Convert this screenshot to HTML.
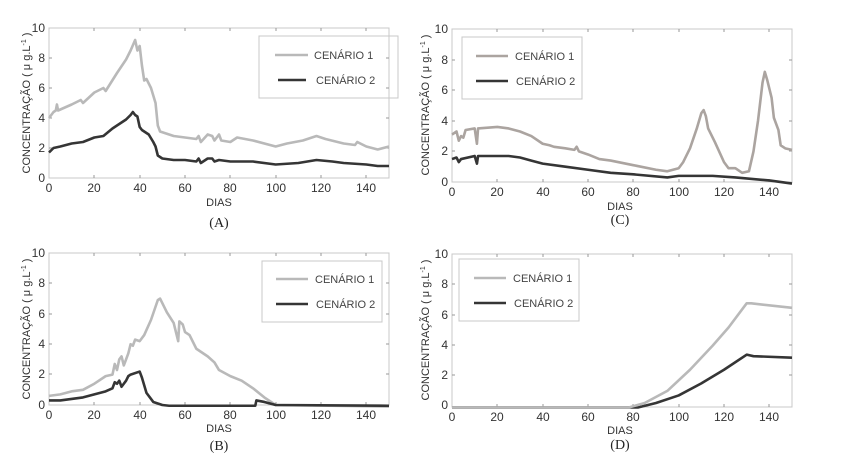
<!DOCTYPE html>
<html><head><meta charset="utf-8"><style>
html,body{margin:0;padding:0;background:#fff;}
svg{display:block;}
.t{font-family:"Liberation Sans",sans-serif;font-size:12px;fill:#333;}
.lg{font-family:"Liberation Sans",sans-serif;font-size:11px;fill:#444;}
.cap{font-family:"Liberation Serif",serif;font-size:14px;fill:#222;}
.frame{fill:none;stroke:#c8c8c8;stroke-width:1;}
.c1{fill:none;stroke:#b9b9b9;stroke-width:2.6;stroke-linejoin:round;}
.c1c{fill:none;stroke:#aba4a0;stroke-width:2.6;stroke-linejoin:round;}
.c2{fill:none;stroke:#353535;stroke-width:2.6;stroke-linejoin:round;}
.tk{stroke:#999;stroke-width:1;}
</style></head><body>
<svg width="849" height="469" viewBox="0 0 849 469" xmlns="http://www.w3.org/2000/svg">
<rect width="849" height="469" fill="#fff"/>

<!-- Panel A -->
<rect class="frame" x="49" y="28" width="340" height="150"/>
<path class="tk" d="M94,178v-3M140,178v-3M185,178v-3M230,178v-3M276,178v-3M321,178v-3M366,178v-3M94,28v3M140,28v3M185,28v3M230,28v3M276,28v3M321,28v3M366,28v3M49,58h3M49,88h3M49,118h3M49,148h3M389,58h-3M389,88h-3M389,118h-3M389,148h-3"/>
<g class="t" text-anchor="end">
<text x="45" y="32">10</text><text x="45" y="62">8</text><text x="45" y="92">6</text><text x="45" y="122">4</text><text x="45" y="152">2</text><text x="45" y="182">0</text></g>
<g class="t" text-anchor="middle">
<text x="49" y="192">0</text><text x="94" y="192">20</text><text x="140" y="192">40</text><text x="185" y="192">60</text><text x="230" y="192">80</text><text x="276" y="192">100</text><text x="321" y="192">120</text><text x="366" y="192">140</text>
<text x="219" y="206" style="font-size:11px">DIAS</text></g>
<text class="t" style="font-size:11px" transform="translate(30,103) rotate(-90)" text-anchor="middle">CONCENTRAÇÃO ( μ g.L<tspan dy="-4" font-size="7">-1</tspan><tspan dy="4"> )</tspan></text>
<text class="cap" x="219" y="227" text-anchor="middle">(A)</text>
<rect class="frame" x="259" y="36" width="139" height="62"/>
<line x1="275" y1="55" x2="308" y2="55" stroke="#b9b9b9" stroke-width="2.6"/><text class="lg" x="314" y="59">CENÁRIO 1</text>
<line x1="278" y1="80" x2="306" y2="80" stroke="#353535" stroke-width="2.6"/><text class="lg" x="316" y="84">CENÁRIO 2</text>
<g transform="translate(49,178) scale(2.2667,-15)">
<polyline class="c1" vector-effect="non-scaling-stroke" points="0,4 2,4.4 3,4.5 3.5,4.9 4,4.5 10,4.9 14,5.2 15,5 20,5.7 24,6 25,5.8 30,7 34,7.9 36,8.5 38,9.2 39,8.5 40,8.8 41,7.5 42,6.5 43,6.6 45,6 47,5 48,3.5 49,3.1 55,2.8 60,2.7 65,2.6 66,2.8 67,2.4 70,2.9 72,2.8 73,2.5 75,2.9 76,2.5 80,2.4 83,2.7 90,2.5 100,2.1 105,2.3 112,2.5 118,2.8 122,2.6 130,2.3 135,2.2 136,2.4 140,2.1 145,1.9 150,2.1"/>
<polyline class="c2" vector-effect="non-scaling-stroke" points="0,1.7 2,2 5,2.1 10,2.3 15,2.4 20,2.7 24,2.8 28,3.3 34,3.9 36,4.2 37,4.4 38,4.2 39,4.1 40,3.4 41,3.2 42,3.1 44,2.9 46,2.4 47,2.1 48,1.5 50,1.3 55,1.2 60,1.2 65,1.1 66,1.3 67,1 70,1.3 72,1.3 73,1.1 75,1.2 80,1.1 90,1.1 100,0.9 110,1 118,1.2 125,1.1 130,1 140,0.9 145,0.8 150,0.8"/>
</g>

<!-- Panel C -->
<rect class="frame" x="452" y="29" width="340" height="153"/>
<path class="tk" d="M497,182v-3M543,182v-3M588,182v-3M633,182v-3M679,182v-3M724,182v-3M769,182v-3M497,29v3M543,29v3M588,29v3M633,29v3M679,29v3M724,29v3M769,29v3M452,60h3M452,90h3M452,121h3M452,151h3M792,60h-3M792,90h-3M792,121h-3M792,151h-3"/>
<g class="t" text-anchor="end">
<text x="448" y="33">10</text><text x="448" y="64">8</text><text x="448" y="94">6</text><text x="448" y="125">4</text><text x="448" y="155">2</text><text x="448" y="186">0</text></g>
<g class="t" text-anchor="middle">
<text x="452" y="196">0</text><text x="497" y="196">20</text><text x="543" y="196">40</text><text x="588" y="196">60</text><text x="633" y="196">80</text><text x="679" y="196">100</text><text x="724" y="196">120</text><text x="769" y="196">140</text>
<text x="620" y="210" style="font-size:11px">DIAS</text></g>
<text class="t" style="font-size:11px" transform="translate(429,105) rotate(-90)" text-anchor="middle">CONCENTRAÇÃO ( μ g.L<tspan dy="-4" font-size="7">-1</tspan><tspan dy="4"> )</tspan></text>
<text class="cap" x="620" y="224" text-anchor="middle">(C)</text>
<rect class="frame" x="462" y="37" width="120" height="62"/>
<line x1="476" y1="56" x2="508" y2="56" stroke="#aba4a0" stroke-width="2.6"/><text class="lg" x="515" y="60">CENÁRIO 1</text>
<line x1="476" y1="81" x2="508" y2="81" stroke="#353535" stroke-width="2.6"/><text class="lg" x="516" y="85">CENÁRIO 2</text>
<g transform="translate(452,182) scale(2.2667,-15.3)">
<polyline class="c1c" vector-effect="non-scaling-stroke" points="0,3.1 2,3.3 3,2.7 4,3 5,2.9 6,3.4 10,3.5 11,2.5 11.5,3.5 20,3.6 25,3.5 30,3.3 35,3 40,2.5 43,2.4 45,2.3 50,2.2 54,2.1 55,2.3 56,2 60,1.8 65,1.5 70,1.4 80,1.1 90,0.8 95,0.7 100,0.9 102,1.3 105,2.2 108,3.5 110,4.5 111,4.7 112,4.3 113,3.5 116,2.6 120,1.3 122,0.9 125,0.9 128,0.6 131,0.7 133,2 135,4 137,6.5 138,7.2 139,6.7 141,5.5 142,4.2 144,3.4 145,2.4 147,2.2 150,2.1"/>
<polyline class="c2" vector-effect="non-scaling-stroke" points="0,1.5 2,1.6 3,1.3 4,1.5 10,1.7 11,1.2 11.5,1.7 25,1.7 30,1.6 35,1.4 40,1.2 50,1 60,0.8 70,0.6 80,0.5 95,0.3 100,0.4 115,0.4 125,0.3 140,0.1 150,-0.1"/>
</g>

<!-- Panel B -->
<rect class="frame" x="49" y="253" width="340" height="152"/>
<path class="tk" d="M94,405v-3M140,405v-3M185,405v-3M230,405v-3M276,405v-3M321,405v-3M366,405v-3M94,253v3M140,253v3M185,253v3M230,253v3M276,253v3M321,253v3M366,253v3M49,283h3M49,314h3M49,344h3M49,374h3M389,283h-3M389,314h-3M389,344h-3M389,374h-3"/>
<g class="t" text-anchor="end">
<text x="45" y="257">10</text><text x="45" y="287">8</text><text x="45" y="318">6</text><text x="45" y="348">4</text><text x="45" y="378">2</text><text x="45" y="409">0</text></g>
<g class="t" text-anchor="middle">
<text x="49" y="419">0</text><text x="94" y="419">20</text><text x="140" y="419">40</text><text x="185" y="419">60</text><text x="230" y="419">80</text><text x="276" y="419">100</text><text x="321" y="419">120</text><text x="366" y="419">140</text>
<text x="219" y="432" style="font-size:11px">DIAS</text></g>
<text class="t" style="font-size:11px" transform="translate(30,329) rotate(-90)" text-anchor="middle">CONCENTRAÇÃO ( μ g.L<tspan dy="-4" font-size="7">-1</tspan><tspan dy="4"> )</tspan></text>
<text class="cap" x="219" y="450" text-anchor="middle">(B)</text>
<rect class="frame" x="262" y="261" width="120" height="61"/>
<line x1="276" y1="279" x2="308" y2="279" stroke="#b9b9b9" stroke-width="2.6"/><text class="lg" x="315" y="283">CENÁRIO 1</text>
<line x1="276" y1="304" x2="308" y2="304" stroke="#353535" stroke-width="2.6"/><text class="lg" x="316" y="308">CENÁRIO 2</text>
<g transform="translate(49,405) scale(2.2667,-15.2)">
<polyline class="c1" vector-effect="non-scaling-stroke" points="0,0.6 5,0.7 10,0.9 15,1 20,1.4 25,1.9 28,2 29,2.7 30,2.3 31,3 32,3.2 33,2.6 35,3.4 36,4 37,3.9 38,4.3 40,4.2 42,4.6 45,5.6 48,6.9 49,7 52,6.1 55,5.4 57,4.2 57.5,5.5 59,5.3 60,4.8 62,4.6 65,3.7 70,3.2 73,2.8 75,2.3 80,1.9 85,1.6 90,1.1 95,0.5 100,0 150,-0.1"/>
<polyline class="c2" vector-effect="non-scaling-stroke" points="0,0.3 5,0.3 15,0.5 20,0.7 25,0.9 28,1.1 29,1.5 30,1.4 31,1.6 32,1.2 34,1.6 35,1.9 36,2 40,2.2 41,1.8 43,0.8 46,0.2 50,0 53,-0.05 91,-0.05 91.5,0.3 95,0.2 100,0 150,-0.05"/>
</g>

<!-- Panel D -->
<rect class="frame" x="452" y="254" width="340" height="153"/>
<path class="tk" d="M497,407v-3M543,407v-3M588,407v-3M633,407v-3M679,407v-3M724,407v-3M769,407v-3M497,254v3M543,254v3M588,254v3M633,254v3M679,254v3M724,254v3M769,254v3M452,284h3M452,315h3M452,345h3M452,375h3M792,284h-3M792,315h-3M792,345h-3M792,375h-3"/>
<g class="t" text-anchor="end">
<text x="448" y="258">10</text><text x="448" y="288">8</text><text x="448" y="319">6</text><text x="448" y="349">4</text><text x="448" y="379">2</text><text x="448" y="409">0</text></g>
<g class="t" text-anchor="middle">
<text x="452" y="421">0</text><text x="497" y="421">20</text><text x="543" y="421">40</text><text x="588" y="421">60</text><text x="633" y="421">80</text><text x="679" y="421">100</text><text x="724" y="421">120</text><text x="769" y="421">140</text>
<text x="620" y="434" style="font-size:11px">DIAS</text></g>
<text class="t" style="font-size:11px" transform="translate(429,330) rotate(-90)" text-anchor="middle">CONCENTRAÇÃO ( μ g.L<tspan dy="-4" font-size="7">-1</tspan><tspan dy="4"> )</tspan></text>
<text class="cap" x="620" y="449" text-anchor="middle">(D)</text>
<rect class="frame" x="459" y="259" width="120" height="62"/>
<line x1="474" y1="278" x2="506" y2="278" stroke="#b9b9b9" stroke-width="2.6"/><text class="lg" x="513" y="282">CENÁRIO 1</text>
<line x1="474" y1="303" x2="506" y2="303" stroke="#353535" stroke-width="2.6"/><text class="lg" x="514" y="307">CENÁRIO 2</text>
<g transform="translate(452,406) scale(2.2667,-15.1)">
<polyline class="c2" vector-effect="non-scaling-stroke" points="0,-0.1 82,-0.1 90,0.2 100,0.7 110,1.5 120,2.4 130,3.4 133,3.3 150,3.2"/>
<polyline class="c1" vector-effect="non-scaling-stroke" points="0,-0.1 78,-0.1 85,0.2 95,1 105,2.4 115,4 122,5.2 130,6.8 132,6.8 150,6.5"/>
</g>
</svg>
</body></html>
